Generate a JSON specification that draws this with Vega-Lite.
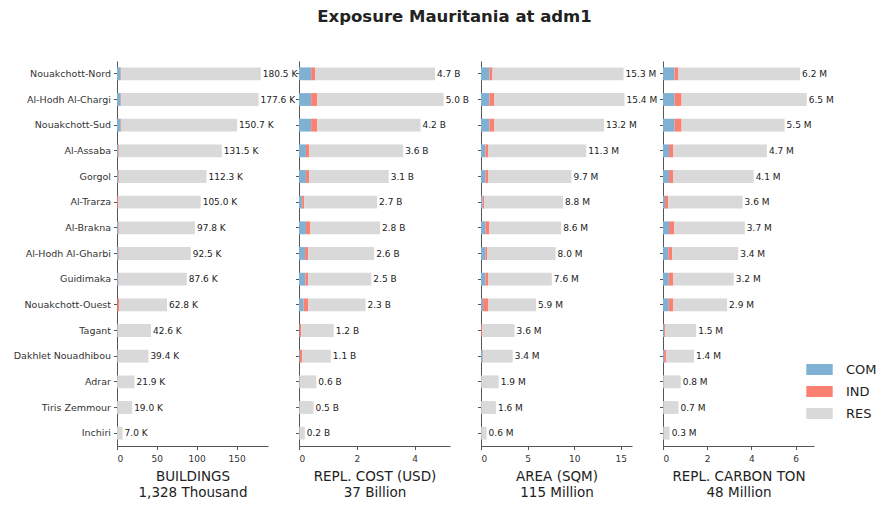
{
  "$schema": "https://vega.github.io/schema/vega-lite/v6.json",
  "background": "white",
  "padding": {"left": 13, "top": 8, "right": 5, "bottom": 5},
  "title": {
    "text": "Exposure Mauritania at adm1",
    "font": "DejaVu Sans",
    "fontSize": 16.5,
    "fontWeight": "bold",
    "color": "#222222",
    "anchor": "start",
    "dx": 304,
    "offset": 36
  },
  "data": {
    "values": [
      {"region": "Nouakchott-Nord", "type": "COM", "bld": 4.6, "cost": 0.42, "area": 0.9, "carbon": 0.52},
      {"region": "Nouakchott-Nord", "type": "IND", "bld": 0.8, "cost": 0.14, "area": 0.33, "carbon": 0.18},
      {"region": "Nouakchott-Nord", "type": "RES", "bld": 175.1, "cost": 4.14, "area": 14.07, "carbon": 5.5},
      {"region": "Al-Hodh Al-Chargi", "type": "COM", "bld": 4.6, "cost": 0.42, "area": 0.9, "carbon": 0.52},
      {"region": "Al-Hodh Al-Chargi", "type": "IND", "bld": 0.8, "cost": 0.21, "area": 0.54, "carbon": 0.32},
      {"region": "Al-Hodh Al-Chargi", "type": "RES", "bld": 172.2, "cost": 4.37, "area": 13.96, "carbon": 5.66},
      {"region": "Nouakchott-Sud", "type": "COM", "bld": 4.6, "cost": 0.42, "area": 0.9, "carbon": 0.52},
      {"region": "Nouakchott-Sud", "type": "IND", "bld": 1.0, "cost": 0.21, "area": 0.54, "carbon": 0.32},
      {"region": "Nouakchott-Sud", "type": "RES", "bld": 145.1, "cost": 3.57, "area": 11.76, "carbon": 4.66},
      {"region": "Al-Assaba", "type": "COM", "bld": 1.7, "cost": 0.24, "area": 0.47, "carbon": 0.27},
      {"region": "Al-Assaba", "type": "IND", "bld": 0.8, "cost": 0.11, "area": 0.33, "carbon": 0.2},
      {"region": "Al-Assaba", "type": "RES", "bld": 129.0, "cost": 3.25, "area": 10.5, "carbon": 4.23},
      {"region": "Gorgol", "type": "COM", "bld": 1.7, "cost": 0.24, "area": 0.47, "carbon": 0.27},
      {"region": "Gorgol", "type": "IND", "bld": 0.8, "cost": 0.11, "area": 0.33, "carbon": 0.2},
      {"region": "Gorgol", "type": "RES", "bld": 109.8, "cost": 2.75, "area": 8.9, "carbon": 3.63},
      {"region": "Al-Trarza", "type": "COM", "bld": 0.3, "cost": 0.11, "area": 0.18, "carbon": 0.09},
      {"region": "Al-Trarza", "type": "IND", "bld": 1.5, "cost": 0.07, "area": 0.15, "carbon": 0.15},
      {"region": "Al-Trarza", "type": "RES", "bld": 103.2, "cost": 2.52, "area": 8.47, "carbon": 3.36},
      {"region": "Al-Brakna", "type": "COM", "bld": 1.7, "cost": 0.24, "area": 0.47, "carbon": 0.27},
      {"region": "Al-Brakna", "type": "IND", "bld": 0.7, "cost": 0.15, "area": 0.43, "carbon": 0.24},
      {"region": "Al-Brakna", "type": "RES", "bld": 95.4, "cost": 2.41, "area": 7.7, "carbon": 3.19},
      {"region": "Al-Hodh Al-Gharbi", "type": "COM", "bld": 1.7, "cost": 0.21, "area": 0.47, "carbon": 0.24},
      {"region": "Al-Hodh Al-Gharbi", "type": "IND", "bld": 0.7, "cost": 0.11, "area": 0.22, "carbon": 0.18},
      {"region": "Al-Hodh Al-Gharbi", "type": "RES", "bld": 90.1, "cost": 2.28, "area": 7.31, "carbon": 2.98},
      {"region": "Guidimaka", "type": "COM", "bld": 1.5, "cost": 0.22, "area": 0.47, "carbon": 0.26},
      {"region": "Guidimaka", "type": "IND", "bld": 0.6, "cost": 0.1, "area": 0.33, "carbon": 0.21},
      {"region": "Guidimaka", "type": "RES", "bld": 85.5, "cost": 2.18, "area": 6.8, "carbon": 2.73},
      {"region": "Nouakchott-Ouest", "type": "COM", "bld": 0.5, "cost": 0.16, "area": 0.22, "carbon": 0.26},
      {"region": "Nouakchott-Ouest", "type": "IND", "bld": 2.5, "cost": 0.16, "area": 0.58, "carbon": 0.21},
      {"region": "Nouakchott-Ouest", "type": "RES", "bld": 59.8, "cost": 1.98, "area": 5.1, "carbon": 2.43},
      {"region": "Tagant", "type": "COM", "bld": 0.2, "cost": 0.02, "area": 0.03, "carbon": 0.05},
      {"region": "Tagant", "type": "IND", "bld": 0.3, "cost": 0.06, "area": 0.12, "carbon": 0.04},
      {"region": "Tagant", "type": "RES", "bld": 42.1, "cost": 1.12, "area": 3.45, "carbon": 1.41},
      {"region": "Dakhlet Nouadhibou", "type": "COM", "bld": 0.3, "cost": 0.03, "area": 0.18, "carbon": 0.05},
      {"region": "Dakhlet Nouadhibou", "type": "IND", "bld": 0.3, "cost": 0.08, "area": 0.07, "carbon": 0.1},
      {"region": "Dakhlet Nouadhibou", "type": "RES", "bld": 38.8, "cost": 0.99, "area": 3.15, "carbon": 1.25},
      {"region": "Adrar", "type": "COM", "bld": 0.1, "cost": 0.005, "area": 0.01, "carbon": 0.005},
      {"region": "Adrar", "type": "IND", "bld": 0.1, "cost": 0.005, "area": 0.01, "carbon": 0.005},
      {"region": "Adrar", "type": "RES", "bld": 21.7, "cost": 0.59, "area": 1.88, "carbon": 0.79},
      {"region": "Tiris Zemmour", "type": "COM", "bld": 0.1, "cost": 0.005, "area": 0.01, "carbon": 0.005},
      {"region": "Tiris Zemmour", "type": "IND", "bld": 0.1, "cost": 0.005, "area": 0.01, "carbon": 0.005},
      {"region": "Tiris Zemmour", "type": "RES", "bld": 18.8, "cost": 0.49, "area": 1.58, "carbon": 0.69},
      {"region": "Inchiri", "type": "COM", "bld": 0.05, "cost": 0.005, "area": 0.01, "carbon": 0.005},
      {"region": "Inchiri", "type": "IND", "bld": 0.05, "cost": 0.005, "area": 0.01, "carbon": 0.005},
      {"region": "Inchiri", "type": "RES", "bld": 6.9, "cost": 0.19, "area": 0.58, "carbon": 0.29}
    ]
  },
  "bounds": "flush",
  "spacing": 31,
  "hconcat": [
    {
      "width": 151,
      "height": 385,
      "encoding": {
        "y": {
          "field": "region",
          "type": "nominal",
          "sort": ["Nouakchott-Nord", "Al-Hodh Al-Chargi", "Nouakchott-Sud", "Al-Assaba", "Gorgol", "Al-Trarza", "Al-Brakna", "Al-Hodh Al-Gharbi", "Guidimaka", "Nouakchott-Ouest", "Tagant", "Dakhlet Nouadhibou", "Adrar", "Tiris Zemmour", "Inchiri"],
          "scale": {"paddingInner": 0.5, "paddingOuter": 0.25},
          "axis": {"title": null, "labelPadding": 3, "labelFontSize": 9.5}
        }
      },
      "layer": [
        {
          "mark": {"type": "bar"},
          "encoding": {
            "x": {
              "field": "bld",
              "type": "quantitative",
              "scale": {"domain": [0, 189.5], "nice": false},
              "axis": {"title": ["BUILDINGS", "1,328 Thousand"], "values": [0, 50, 100, 150]}
            },
            "color": {
              "field": "type",
              "type": "nominal",
              "scale": {"domain": ["COM", "IND", "RES"], "range": ["#80b1d3", "#fb8072", "#d9d9d9"]},
              "legend": {"orient": "none", "legendX": 696, "legendY": 302}
            },
            "order": {"field": "type", "sort": "ascending"}
          }
        },
        {
          "transform": [
            {"aggregate": [{"op": "sum", "field": "bld", "as": "total_bld"}], "groupby": ["region"]},
            {"calculate": "format(datum.total_bld, '.1f') + ' K'", "as": "label_bld"}
          ],
          "mark": {"type": "text", "align": "left", "baseline": "middle", "dx": 2, "fontSize": 9, "font": "DejaVu Sans", "color": "#222222"},
          "encoding": {
            "x": {"field": "total_bld", "type": "quantitative"},
            "text": {"field": "label_bld"}
          }
        }
      ]
    },
    {
      "width": 151,
      "height": 385,
      "encoding": {
        "y": {
          "field": "region",
          "type": "nominal",
          "sort": ["Nouakchott-Nord", "Al-Hodh Al-Chargi", "Nouakchott-Sud", "Al-Assaba", "Gorgol", "Al-Trarza", "Al-Brakna", "Al-Hodh Al-Gharbi", "Guidimaka", "Nouakchott-Ouest", "Tagant", "Dakhlet Nouadhibou", "Adrar", "Tiris Zemmour", "Inchiri"],
          "scale": {"paddingInner": 0.5, "paddingOuter": 0.25},
          "axis": {"title": null, "labels": false}
        }
      },
      "layer": [
        {
          "mark": {"type": "bar"},
          "encoding": {
            "x": {
              "field": "cost",
              "type": "quantitative",
              "scale": {"domain": [0, 5.22], "nice": false},
              "axis": {"title": ["REPL. COST (USD)", "37 Billion"], "values": [0, 2, 4]}
            },
            "color": {"field": "type", "type": "nominal"},
            "order": {"field": "type", "sort": "ascending"}
          }
        },
        {
          "transform": [
            {"aggregate": [{"op": "sum", "field": "cost", "as": "total_cost"}], "groupby": ["region"]},
            {"calculate": "format(datum.total_cost, '.1f') + ' B'", "as": "label_cost"}
          ],
          "mark": {"type": "text", "align": "left", "baseline": "middle", "dx": 2, "fontSize": 9, "font": "DejaVu Sans", "color": "#222222"},
          "encoding": {
            "x": {"field": "total_cost", "type": "quantitative"},
            "text": {"field": "label_cost"}
          }
        }
      ]
    },
    {
      "width": 151,
      "height": 385,
      "encoding": {
        "y": {
          "field": "region",
          "type": "nominal",
          "sort": ["Nouakchott-Nord", "Al-Hodh Al-Chargi", "Nouakchott-Sud", "Al-Assaba", "Gorgol", "Al-Trarza", "Al-Brakna", "Al-Hodh Al-Gharbi", "Guidimaka", "Nouakchott-Ouest", "Tagant", "Dakhlet Nouadhibou", "Adrar", "Tiris Zemmour", "Inchiri"],
          "scale": {"paddingInner": 0.5, "paddingOuter": 0.25},
          "axis": {"title": null, "labels": false}
        }
      },
      "layer": [
        {
          "mark": {"type": "bar"},
          "encoding": {
            "x": {
              "field": "area",
              "type": "quantitative",
              "scale": {"domain": [0, 16.2], "nice": false},
              "axis": {"title": ["AREA (SQM)", "115 Million"], "values": [0, 5, 10, 15]}
            },
            "color": {"field": "type", "type": "nominal"},
            "order": {"field": "type", "sort": "ascending"}
          }
        },
        {
          "transform": [
            {"aggregate": [{"op": "sum", "field": "area", "as": "total_area"}], "groupby": ["region"]},
            {"calculate": "format(datum.total_area, '.1f') + ' M'", "as": "label_area"}
          ],
          "mark": {"type": "text", "align": "left", "baseline": "middle", "dx": 2, "fontSize": 9, "font": "DejaVu Sans", "color": "#222222"},
          "encoding": {
            "x": {"field": "total_area", "type": "quantitative"},
            "text": {"field": "label_area"}
          }
        }
      ]
    },
    {
      "width": 151,
      "height": 385,
      "encoding": {
        "y": {
          "field": "region",
          "type": "nominal",
          "sort": ["Nouakchott-Nord", "Al-Hodh Al-Chargi", "Nouakchott-Sud", "Al-Assaba", "Gorgol", "Al-Trarza", "Al-Brakna", "Al-Hodh Al-Gharbi", "Guidimaka", "Nouakchott-Ouest", "Tagant", "Dakhlet Nouadhibou", "Adrar", "Tiris Zemmour", "Inchiri"],
          "scale": {"paddingInner": 0.5, "paddingOuter": 0.25},
          "axis": {"title": null, "labels": false}
        }
      },
      "layer": [
        {
          "mark": {"type": "bar"},
          "encoding": {
            "x": {
              "field": "carbon",
              "type": "quantitative",
              "scale": {"domain": [0, 6.83], "nice": false},
              "axis": {"title": ["REPL. CARBON TON", "48 Million"], "values": [0, 2, 4, 6]}
            },
            "color": {"field": "type", "type": "nominal"},
            "order": {"field": "type", "sort": "ascending"}
          }
        },
        {
          "transform": [
            {"aggregate": [{"op": "sum", "field": "carbon", "as": "total_carbon"}], "groupby": ["region"]},
            {"calculate": "format(datum.total_carbon, '.1f') + ' M'", "as": "label_carbon"}
          ],
          "mark": {"type": "text", "align": "left", "baseline": "middle", "dx": 2, "fontSize": 9, "font": "DejaVu Sans", "color": "#222222"},
          "encoding": {
            "x": {"field": "total_carbon", "type": "quantitative"},
            "text": {"field": "label_carbon"}
          }
        }
      ]
    }
  ],
  "config": {
    "view": {"stroke": null},
    "font": "DejaVu Sans",
    "axis": {
      "grid": false,
      "labelFont": "DejaVu Sans",
      "titleFont": "DejaVu Sans",
      "labelFontSize": 9,
      "titleFontSize": 13.5,
      "titleFontWeight": "normal",
      "labelColor": "#333333",
      "titleColor": "#222222",
      "domainColor": "#555555",
      "tickColor": "#555555",
      "tickSize": 3.5
    },
    "axisX": {"labelPadding": 5, "titlePadding": 6},
    "legend": {
      "title": null,
      "labelFont": "DejaVu Sans",
      "labelFontSize": 13,
      "labelColor": "#222222",
      "symbolType": "M-2.4,-1H2.4V1H-2.4Z",
      "symbolSize": 121,
      "symbolStrokeWidth": 0,
      "rowPadding": 8,
      "labelOffset": 20
    }
  }
}
